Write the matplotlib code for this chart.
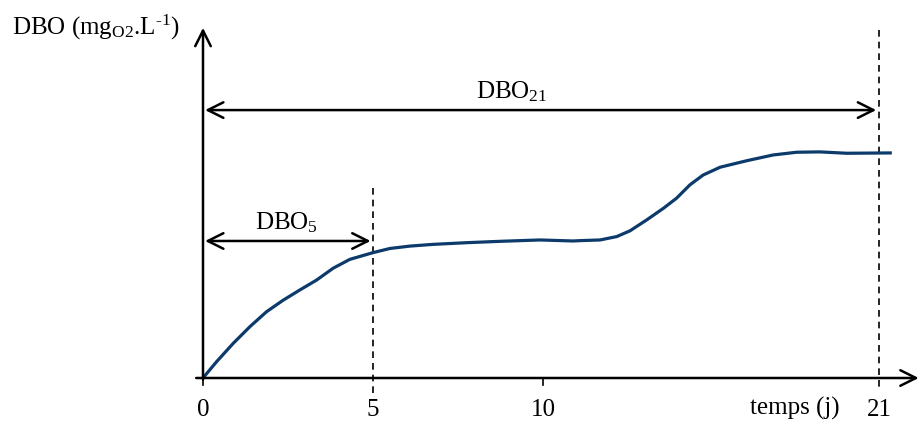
import matplotlib
matplotlib.use("Agg")
import matplotlib.pyplot as plt

plt.rcParams['font.family'] = ['Liberation Serif', 'DejaVu Serif']
plt.rcParams['mathtext.fontset'] = 'custom'
plt.rcParams['mathtext.rm'] = 'Liberation Serif'
plt.rcParams['mathtext.it'] = 'Liberation Serif:italic'

# Curve data (time in days, DBO arbitrary units)
t_days = [0, 0.40, 0.89, 1.38, 1.87, 2.36, 2.85, 3.34, 3.83, 4.32, 5.01, 5.50, 6.09,
          6.76, 7.76, 8.74, 9.91, 10.88, 11.09, 11.68, 12.17, 12.56, 13.05, 13.54,
          13.93, 14.32, 14.71, 15.21, 15.99, 16.77, 17.46, 18.15, 18.93, 20.26]
dbo = [0, 0.48, 1.02, 1.51, 1.95, 2.29, 2.59, 2.88, 3.23, 3.49, 3.69, 3.81, 3.88,
       3.93, 3.98, 4.02, 4.06, 4.03, 4.04, 4.06, 4.16, 4.33, 4.65, 4.99,
       5.29, 5.68, 5.97, 6.20, 6.39, 6.56, 6.64, 6.65, 6.61, 6.62]

tick_pos = [0, 5, 10, 19.88]
tick_labels = ['0', '5', '10', '21']
x5 = 5.0
x21 = 19.88
y_dbo21_arrow = 7.88
y_dbo5_arrow = 4.03

fig = plt.figure(figsize=(9.2, 4.21), dpi=100)
ax = fig.add_axes([0, 0, 1, 1])
ax.set_xlim(-203 / 34, (920 - 203) / 34)
ax.set_ylim((378 - 421) / 34, 378 / 34)
ax.axis('off')

fs = 18
curve_color = '#0b3a6b'

# Axes with open arrow heads
ax.annotate('', xy=(21.05, 0), xytext=(-0.2, 0),
            arrowprops=dict(arrowstyle='->', lw=1.8, color='black', mutation_scale=28,
                            shrinkA=0, shrinkB=0))
ax.annotate('', xy=(0, 10.3), xytext=(0, -0.05),
            arrowprops=dict(arrowstyle='->', lw=1.8, color='black', mutation_scale=28,
                            shrinkA=0, shrinkB=0))

# small ticks at 0 and 10
for tp in [0, 10]:
    ax.plot([tp, tp], [0, -0.22], color='black', lw=1.2)

# dashed lines
ax.plot([x5, x5], [5.6, -0.45], color='black', lw=1.2, ls=(0, (4, 3)))
ax.plot([x21, x21], [10.24, -0.27], color='black', lw=1.2, ls=(0, (4, 3)))

# curve
ax.plot(t_days, dbo, color=curve_color, lw=2.3, solid_capstyle='butt',
        solid_joinstyle='round')

# double arrows
ax.annotate('', xy=(0.06, y_dbo21_arrow), xytext=(x21 - 0.08, y_dbo21_arrow),
            arrowprops=dict(arrowstyle='<->', lw=1.8, color='black', mutation_scale=28,
                            shrinkA=0, shrinkB=0))
ax.annotate('', xy=(0.06, y_dbo5_arrow), xytext=(x5 - 0.07, y_dbo5_arrow),
            arrowprops=dict(arrowstyle='<->', lw=1.8, color='black', mutation_scale=28,
                            shrinkA=0, shrinkB=0))

# labels
ax.text((512 - 203) / 34, (378 - 98) / 34, r'DBO$_{\mathrm{21}}$', fontsize=fs,
        ha='center', va='baseline')
ax.text((287 - 203) / 34, (378 - 229) / 34, r'DBO$_{\mathrm{5}}$', fontsize=fs,
        ha='center', va='baseline')
ax.text((12 - 203) / 34, (378 - 35) / 34, r'DBO (mg$_{\mathrm{O2}}$.L$^{\text{-1}}$)',
        fontsize=fs, ha='left', va='baseline')

for p, lab in zip(tick_pos, tick_labels):
    ax.text(p, (378 - 416) / 34, lab, fontsize=fs, ha='center', va='baseline')
ax.text((795 - 203) / 34, (378 - 415) / 34, 'temps (j)', fontsize=fs,
        ha='center', va='baseline')

fig.savefig('out.png', dpi=100)
